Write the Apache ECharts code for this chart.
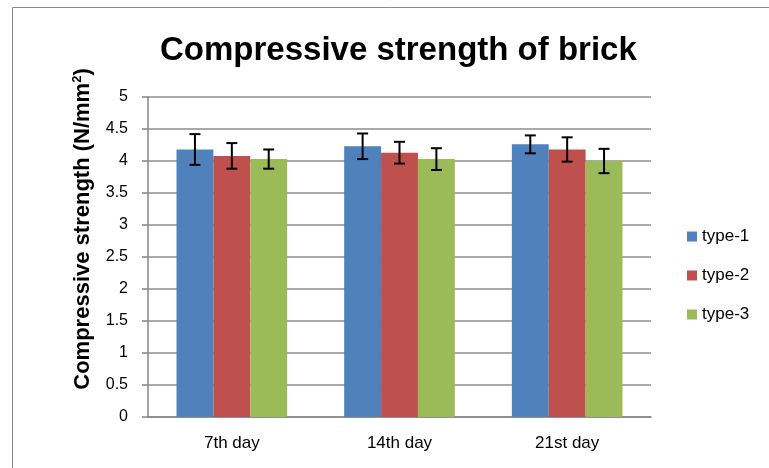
<!DOCTYPE html>
<html>
<head>
<meta charset="utf-8">
<script src="https://cdn.jsdelivr.net/npm/echarts@6/dist/echarts.min.js"></script>
<style>
  html, body { margin: 0; padding: 0; background: #fff; }
  #main { width: 769px; height: 468px; }
</style>
</head>
<body>
<div id="main"></div>
<script>
const categories = ['7th day', '14th day', '21st day'];
const seriesNames = ['type-1', 'type-2', 'type-3'];
const type1 = [4.18, 4.23, 4.26];
const type2 = [4.08, 4.13, 4.18];
const type3 = [4.03, 4.03, 4.0];
const type1Err = [0.24, 0.2, 0.14];
const type2Err = [0.2, 0.17, 0.19];
const type3Err = [0.15, 0.17, 0.19];
const colors = ['#4F81BD', '#C0504D', '#9BBB59'];

const values = [type1, type2, type3];
const errors = [type1Err, type2Err, type3Err];
const barCategoryGap = 0.34;

const chart = echarts.init(document.getElementById('main'));

const barSeries = seriesNames.map((name, i) => ({
  name,
  type: 'bar',
  data: values[i],
  itemStyle: { color: colors[i] },
  barGap: '0%',
  barCategoryGap: '34%',
}));

// error bars, placed over the centre of each bar
const errSeries = seriesNames.map((name, i) => ({
  type: 'custom',
  name: name + '-err',
  data: values[i].map((v, k) => [k, v - errors[i][k], v + errors[i][k]]),
  z: 10,
  renderItem(params, api) {
    const k = api.value(0);
    const low = api.coord([k, api.value(1)]);
    const high = api.coord([k, api.value(2)]);
    const catW = api.size([1, 0])[0];
    const barW = catW * (1 - barCategoryGap) / 3;
    const x = low[0] + (i - 1) * barW;
    const cap = 5.5;
    const style = { stroke: '#000', lineWidth: 2 };
    return {
      type: 'group',
      children: [
        { type: 'line', shape: { x1: x, y1: high[1], x2: x, y2: low[1] }, style },
        { type: 'line', shape: { x1: x - cap, y1: high[1], x2: x + cap, y2: high[1] }, style },
        { type: 'line', shape: { x1: x - cap, y1: low[1], x2: x + cap, y2: low[1] }, style },
      ],
    };
  },
}));

const option = {
  backgroundColor: '#fff',
  animation: false,
  title: {
    text: 'Compressive strength of brick',
    left: 155,
    top: 29,
    textStyle: {
      fontFamily: 'Liberation Sans',
      fontWeight: 'bold',
      fontSize: 33,
      color: '#000',
    },
  },
  legend: {
    orient: 'vertical',
    left: 682,
    top: 223,
    itemWidth: 10,
    itemHeight: 10,
    itemGap: 22,
    icon: 'rect',
    data: seriesNames,
    textStyle: { fontFamily: 'Liberation Sans', fontSize: 17, color: '#000' },
  },
  graphic: [
    {
      type: 'rect',
      shape: { x: 12.5, y: 7.5, width: 800, height: 500 },
      style: { fill: 'none', stroke: '#8a8a8a', lineWidth: 1 },
      silent: true,
    },
  ],
  grid: { left: 148, right: 118, top: 97, bottom: 51 },
  xAxis: {
    type: 'category',
    data: categories,
    axisLine: { lineStyle: { color: '#868686', width: 1.5 } },
    axisTick: { length: 6, lineStyle: { color: '#868686', width: 1.5 } },
    axisLabel: {
      margin: 18,
      fontFamily: 'Liberation Sans',
      fontSize: 17,
      color: '#000',
    },
  },
  yAxis: {
    type: 'value',
    min: 0,
    max: 5,
    interval: 0.5,
    name: 'Compressive strength (N/mm{sup|2})',
    nameLocation: 'middle',
    nameGap: 54,
    nameTextStyle: {
      fontFamily: 'Liberation Sans',
      fontWeight: 'bold',
      fontSize: 22,
      color: '#000',
      padding: [0, 0, 0, 56],
      rich: {
        sup: {
          fontFamily: 'Liberation Sans',
          fontWeight: 'bold',
          fontSize: 13,
          color: '#000',
          verticalAlign: 'top',
          padding: [0, 0, 10, 0],
        },
      },
    },
    axisLine: { show: true, lineStyle: { color: '#868686', width: 1.5 } },
    axisTick: { show: true, length: 6, lineStyle: { color: '#868686', width: 1.5 } },
    splitLine: { lineStyle: { color: '#8c8c8c', width: 1.5 } },
    axisLabel: {
      margin: 20,
      fontFamily: 'Liberation Sans',
      fontSize: 16,
      color: '#000',
    },
  },
  series: [...barSeries, ...errSeries],
};

chart.setOption(option);
</script>
</body>
</html>
